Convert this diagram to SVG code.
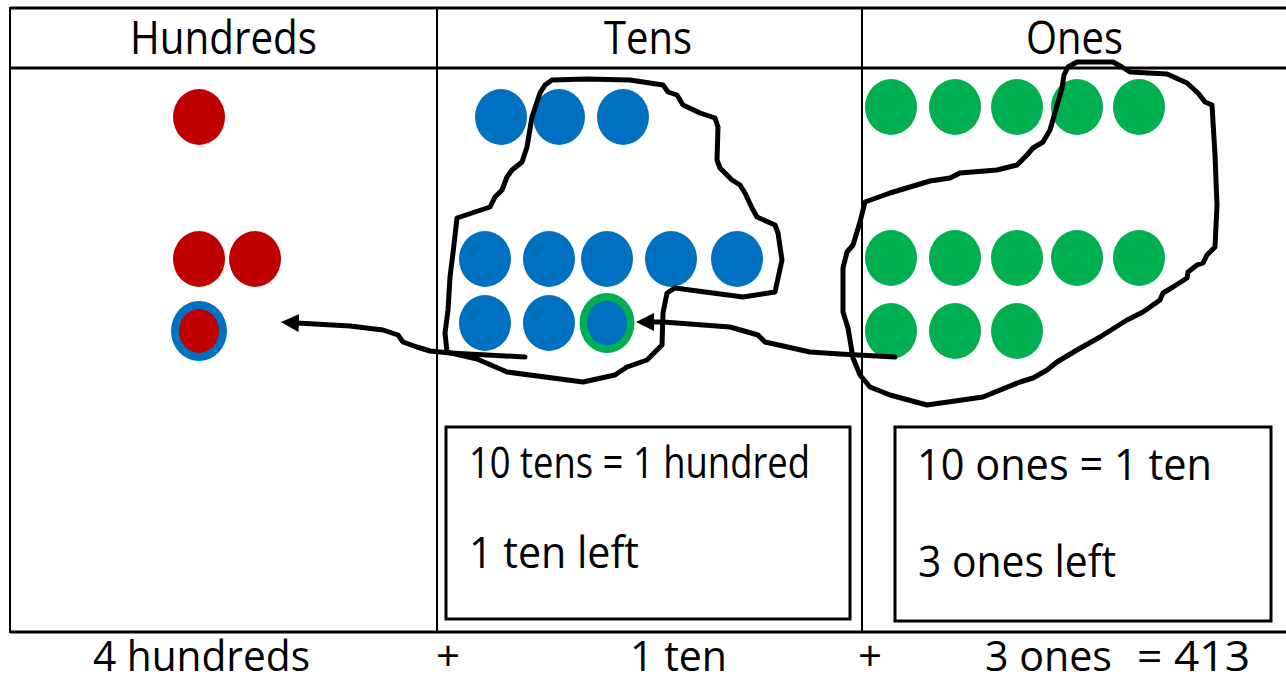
<svg xmlns="http://www.w3.org/2000/svg" width="1286" height="683" viewBox="0 0 1286 683">
<style>
  .txt { font-family: "Open Sans", "Liberation Sans", sans-serif; fill: #000; }
  .hdr { font-size: 46px; }
  .sum { font-size: 42px; }
  .box { font-size: 44px; }
  .red { fill: #C00000; }
  .blue { fill: #0070C0; }
  .green { fill: #00B050; }
  .hline { stroke: #000; stroke-width: 3; }
  .vline { stroke: #000; stroke-width: 2; }
  .frame { fill: none; stroke: #000; stroke-width: 3; }
  .hand { fill: none; stroke: #000; stroke-width: 5; stroke-linejoin: round; stroke-linecap: round; }
</style>
<defs>
  <marker id="head" markerUnits="userSpaceOnUse" markerWidth="18" markerHeight="18" viewBox="0 0 18 18" refX="2" refY="9" orient="auto-start-reverse">
    <path d="M0,0 L18,9 L0,18 Z" fill="#000"/>
  </marker>
</defs>
<rect width="1286" height="683" fill="#fff"/>

<g id="table">
  <line class="hline" x1="10" y1="8" x2="1286" y2="8"/>
  <line class="hline" x1="10" y1="68" x2="1286" y2="68"/>
  <line class="hline" x1="10" y1="632" x2="1286" y2="632"/>
  <line class="vline" x1="10" y1="7" x2="10" y2="633"/>
  <line class="vline" x1="437" y1="7" x2="437" y2="633"/>
  <line class="vline" x1="862" y1="7" x2="862" y2="633"/>
</g>

<g id="headers">
  <text class="txt hdr" x="130" y="54" textLength="187" lengthAdjust="spacingAndGlyphs">Hundreds</text>
  <text class="txt hdr" x="604" y="54" textLength="88" lengthAdjust="spacingAndGlyphs">Tens</text>
  <text class="txt hdr" x="1026" y="54" textLength="97" lengthAdjust="spacingAndGlyphs">Ones</text>
</g>

<g id="hundreds">
  <ellipse class="red" cx="199" cy="117" rx="26" ry="28"/>
  <ellipse class="red" cx="199" cy="259" rx="26" ry="28"/>
  <ellipse class="red" cx="255" cy="259" rx="26" ry="28"/>
  <ellipse class="blue" cx="199" cy="331" rx="28" ry="30"/>
  <ellipse class="red" cx="199" cy="331" rx="20" ry="22"/>
</g>

<g id="tens">
  <ellipse class="blue" cx="501" cy="117" rx="26" ry="28"/>
  <ellipse class="blue" cx="559" cy="117" rx="26" ry="28"/>
  <ellipse class="blue" cx="623" cy="117" rx="26" ry="28"/>
  <ellipse class="blue" cx="485" cy="259" rx="26" ry="28"/>
  <ellipse class="blue" cx="549" cy="259" rx="26" ry="28"/>
  <ellipse class="blue" cx="607" cy="259" rx="26" ry="28"/>
  <ellipse class="blue" cx="671" cy="259" rx="26" ry="28"/>
  <ellipse class="blue" cx="737" cy="259" rx="26" ry="28"/>
  <ellipse class="blue" cx="485" cy="323" rx="26" ry="28"/>
  <ellipse class="blue" cx="549" cy="323" rx="26" ry="28"/>
  <ellipse class="green" cx="607" cy="323" rx="27.5" ry="30"/>
  <ellipse class="blue" cx="607" cy="323" rx="20" ry="22.5"/>
</g>

<g id="ones">
  <ellipse class="green" cx="891" cy="107" rx="26" ry="28"/>
  <ellipse class="green" cx="955" cy="107" rx="26" ry="28"/>
  <ellipse class="green" cx="1017" cy="107" rx="26" ry="28"/>
  <ellipse class="green" cx="1077" cy="107" rx="26" ry="28"/>
  <ellipse class="green" cx="1139" cy="107" rx="26" ry="28"/>
  <ellipse class="green" cx="891" cy="258" rx="26" ry="28"/>
  <ellipse class="green" cx="955" cy="258" rx="26" ry="28"/>
  <ellipse class="green" cx="1017" cy="258" rx="26" ry="28"/>
  <ellipse class="green" cx="1077" cy="258" rx="26" ry="28"/>
  <ellipse class="green" cx="1139" cy="258" rx="26" ry="28"/>
  <ellipse class="green" cx="891" cy="331" rx="26" ry="28"/>
  <ellipse class="green" cx="955" cy="331" rx="26" ry="28"/>
  <ellipse class="green" cx="1017" cy="331" rx="26" ry="28"/>
</g>

<g id="tens-loop">
  <path class="hand" d="M552,80 L587,79 L630,80 L663,85 L668,92 L677,95 L683,105 L700,113 L715,118 L718,127 L717,160 L720,168 L732,180 L740,185 L745,193 L752,208 L757,217 L775,225 L778,233 L782,260 L775,292 L743,297 L690,290 L675,288 L667,293 L663,313 L662,345 L647,360 L627,367 L615,375 L583,382 L507,372 L477,359 L447,352 L445,333 L448,310 L450,277 L453,253 L457,218 L490,207 L495,197 L502,190 L507,177 L512,170 L522,162 L527,147 L532,117 L540,93 L545,85 Z"/>
</g>

<g id="ones-loop">
  <path class="hand" d="M865,202 L890,193 L930,181 L950,178 L960,173 L997,170 L1017,165 L1027,155 L1033,148 L1043,142 L1050,130 L1062,88 L1064,75 L1068,67 L1077,62 L1113,62 L1122,67 L1130,72 L1167,74 L1187,83 L1198,93 L1205,102 L1212,105 L1215,155 L1217,205 L1215,247 L1207,255 L1203,263 L1197,265 L1188,272 L1187,278 L1173,287 L1163,293 L1160,300 L1143,312 L1127,320 L1100,337 L1077,350 L1057,362 L1047,370 L1033,378 L1020,382 L983,397 L927,405 L890,395 L870,387 L860,375 L853,358 L848,328 L843,312 L843,268 L847,252 L853,245 L860,222 Z"/>
</g>

<g id="connectors">
  <path class="hand" marker-end="url(#head)" d="M525,357 L450,353 L430,351 L417,347 L403,342 L398,335 L383,330 L350,326 L297,323"/>
  <path class="hand" marker-end="url(#head)" d="M895,357 L840,354 L810,352 L765,342 L758,335 L730,327 L663,322 L652,322"/>
</g>

<g id="box-tens">
  <rect class="frame" x="446" y="427" width="404" height="192"/>
  <text class="txt box" x="469" y="478" textLength="341" lengthAdjust="spacingAndGlyphs">10 tens = 1 hundred</text>
  <text class="txt box" x="469" y="568" textLength="170" lengthAdjust="spacingAndGlyphs">1 ten left</text>
</g>

<g id="box-ones">
  <rect class="frame" x="895" y="427" width="376" height="194"/>
  <text class="txt box" x="917" y="480" textLength="295" lengthAdjust="spacingAndGlyphs">10 ones = 1 ten</text>
  <text class="txt box" x="918" y="577" textLength="198" lengthAdjust="spacingAndGlyphs">3 ones left</text>
</g>

<g id="sum">
  <text class="txt sum" x="93" y="671" textLength="217" lengthAdjust="spacingAndGlyphs">4 hundreds</text>
  <text class="txt sum" x="448" y="671" text-anchor="middle">+</text>
  <text class="txt sum" x="630" y="671" textLength="97" lengthAdjust="spacingAndGlyphs">1 ten</text>
  <text class="txt sum" x="870" y="671" text-anchor="middle">+</text>
  <text class="txt sum" x="985" y="671" textLength="127" lengthAdjust="spacingAndGlyphs">3 ones</text>
  <text class="txt sum" x="1137" y="671" textLength="113" lengthAdjust="spacingAndGlyphs">= 413</text>
</g>
</svg>
